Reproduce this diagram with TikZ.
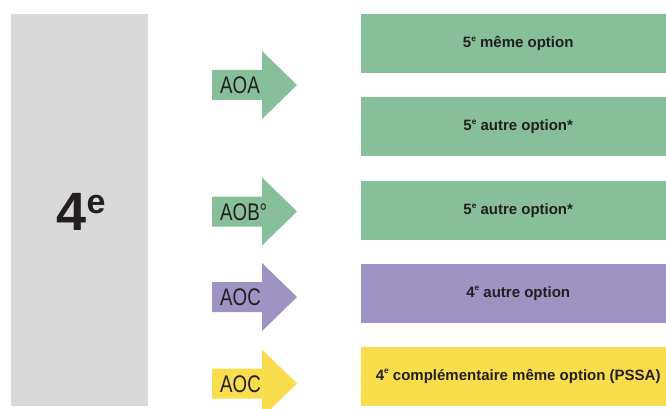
\documentclass[tikz,border=0pt]{standalone}
\usepackage{fontspec}
\setmainfont{Liberation Sans}

\definecolor{lvlgray}{RGB}{217,217,217}
\definecolor{optgreen}{RGB}{134,191,153}
\definecolor{optpurple}{RGB}{159,147,196}
\definecolor{optyellow}{RGB}{249,221,76}
\definecolor{textdark}{RGB}{35,31,32}

\newcommand\expo[1]{\raisebox{0.42em}{\scalebox{0.55}{#1}}}

\tikzset{
  optbox/.style={rectangle, inner sep=0pt, minimum width=314pt, minimum height=59pt,
    anchor=north west, text=textdark, font=\fontsize{15}{17}\selectfont\bfseries},
  optlabel/.style={anchor=base west, inner sep=0pt, text=textdark,
    font=\fontsize{24}{24}\selectfont},
}

\begin{document}
\begin{tikzpicture}[x=1pt,y=-1pt]
            \useasboundingbox (0,0) rectangle (666,409);
            \clip (0,0) rectangle (666,409);

            % Level
            \fill[lvlgray] (11,14) rectangle (148,406);
            \node[anchor=base west, inner sep=0pt, text=textdark, font=\fontsize{54}{54}\selectfont\bfseries]
                (lvl) at (56.5,230) {4\raisebox{17pt}{\fontsize{34}{34}\selectfont e}};

            % Arrows
            \fill[optgreen] (212,70) -- ++(50,0) -- ++(0,-19) -- ++(35,34) -- ++(-35,34) -- ++(0,-19) -- ++(-50,0) -- cycle;
            \fill[optgreen] (212,196.5) -- ++(50,0) -- ++(0,-19) -- ++(35,34) -- ++(-35,34) -- ++(0,-19) -- ++(-50,0) -- cycle;
            \fill[optpurple] (212,282) -- ++(50,0) -- ++(0,-19) -- ++(35,34) -- ++(-35,34) -- ++(0,-19) -- ++(-50,0) -- cycle;
            \fill[optyellow] (212,368.5) -- ++(50,0) -- ++(0,-19) -- ++(35,34) -- ++(-35,34) -- ++(0,-19) -- ++(-50,0) -- cycle;

            \node[optlabel] (aoa) at (220,93.5) {\scalebox{0.78}[1]{AOA}};
            \node[optlabel] (aob) at (220,220) {\scalebox{0.78}[1]{AOB°}};
            \node[optlabel] (aoc1) at (220,305.5) {\scalebox{0.78}[1]{AOC}};
            \node[optlabel] (aoc2) at (220,392) {\scalebox{0.78}[1]{AOC}};

            % Options
            \node[optbox, fill=optgreen] (o1) at (361,14) {5\expo{e} même option};
            \node[optbox, fill=optgreen] (o2) at (361,97) {5\expo{e} autre option*};
            \node[optbox, fill=optgreen] (o3) at (361,181) {5\expo{e} autre option*};
            \node[optbox, fill=optpurple] (o4) at (361,263.5) {4\expo{e} autre option};
            \node[optbox, fill=optyellow] (o5) at (361,346.5) {4\expo{e} complémentaire même option (PSSA)};

        \end{tikzpicture}
\end{document}
